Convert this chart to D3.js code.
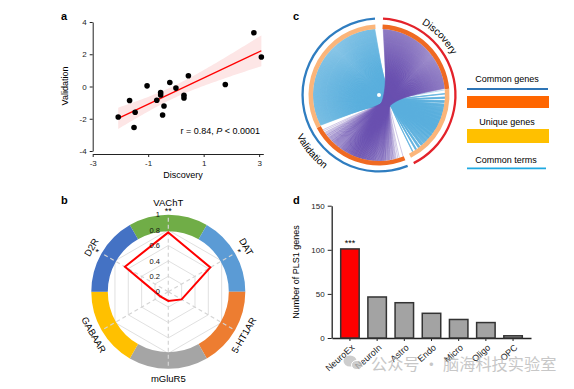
<!DOCTYPE html>
<html>
<head>
<meta charset="utf-8">
<script src="https://cdn.jsdelivr.net/npm/d3@7"></script>
<style>
  body { margin: 0; background: #fff; }
  svg { display: block; font-family: "Liberation Sans", Arial, sans-serif; }
</style>
</head>
<body>
<div id="chart"></div>
<script>
// --- panel a: discovery vs validation scores
const discovery  = [-2.08, -1.67, -1.47, -1.51, -1.04, -0.69, -0.55, -0.55, -0.43, -0.48, -0.22, 0.00, 0.29, 0.29, 0.45, 1.78, 2.81, 3.08];
const validation = [-1.89, -0.87, -1.60, -2.54, 0.04, -0.85, -0.37, -0.52, -1.21, -1.77, 0.25, -0.10, -0.54, -0.71, 0.67, 0.12, 3.33, 1.83];
const xTicksA = [-3, -1, 1, 3];
const yTicksA = [-4, -2, 0, 2, 4];

// --- panel b: receptor radar
const receptors = ['VAChT', 'DAT', '5-HT1AR', 'mGluR5', 'GABAAR', 'D2R'];
const receptorR = [0.77, 0.63, 0.20, 0.12, 0.12, 0.65];
const receptorStars = ['**', '*', '', '', '', '*'];
const radarTicks = [0, 0.2, 0.4, 0.6, 0.8, 1];

// --- panel c: circos of gene sets
const circosSets = ['Discovery', 'Validation'];
const commonGenes = [82, 84];
const uniqueGenes = [68, 115];
const geneLinkCount = 360;
const termLinkCount = 460;
const legendItems = ['Common genes', 'Unique genes', 'Common terms'];

// --- panel d: PLS1 genes by cell type
const cellTypes = ['NeuroEx', 'NeuroIn', 'Astro', 'Endo', 'Micro', 'Oligo', 'OPC'];
const plsGenes = [101, 46.5, 40, 28, 21, 17.5, 2.5];
const yTicksD = [0, 50, 100, 150];

const width = 574, height = 389;
const svg = d3.select('#chart').append('svg')
    .attr('width', width)
    .attr('height', height);
svg.append('rect').attr('width', width).attr('height', height).attr('fill', '#fff');

function styleAxis(g, size) {
    g.attr('font-size', size).attr('font-family', null);
    g.selectAll('path, line').attr('stroke', '#222');
    g.selectAll('text').attr('fill', '#222');
}

function panelLetter(x, y, t) {
    svg.append('text').attr('x', x).attr('y', y)
        .attr('font-size', 11).attr('font-weight', 'bold').text(t);
}

// ================= panel a =================
const xA = d3.scaleLinear().domain([-3, 3.15]).range([92.7, 263.3]);
const yA = d3.scaleLinear().domain([-4, 4]).range([151, 22]);

const n = discovery.length;
const mx = d3.mean(discovery), my = d3.mean(validation);
const sxx = d3.sum(discovery, d => (d - mx) ** 2);
const sxy = d3.sum(discovery, (d, i) => (d - mx) * (validation[i] - my));
const slope = sxy / sxx, icpt = my - slope * mx;
const rss = d3.sum(discovery, (d, i) => (validation[i] - icpt - slope * d) ** 2);
const se = Math.sqrt(rss / (n - 2));
const tval = 2.12;
const [xmin, xmax] = d3.extent(discovery);
const grid = d3.range(61).map(i => xmin + (xmax - xmin) * i / 60);
const ci = x => tval * se * Math.sqrt(1 / n + (x - mx) ** 2 / sxx);

svg.append('path')
    .datum(grid)
    .attr('fill', '#fde6e6')
    .attr('d', d3.area()
        .x(d => xA(d))
        .y0(d => yA(icpt + slope * d - ci(d)))
        .y1(d => yA(icpt + slope * d + ci(d))));

svg.append('g')
    .attr('transform', 'translate(0,154)')
    .call(d3.axisBottom(xA).tickValues(xTicksA).tickSize(3).tickSizeOuter(0).tickFormat(String))
    .call(g => styleAxis(g, 8));

svg.append('g')
    .attr('transform', 'translate(92.7,0)')
    .call(d3.axisLeft(yA).tickValues(yTicksA).tickSize(3).tickSizeOuter(0).tickFormat(String))
    .call(g => styleAxis(g, 8));

svg.append('line')
    .attr('x1', xA(xmin)).attr('x2', xA(xmax))
    .attr('y1', yA(icpt + slope * xmin)).attr('y2', yA(icpt + slope * xmax))
    .attr('stroke', '#f00').attr('stroke-width', 1.3);

svg.selectAll('.dot')
    .data(discovery)
    .enter()
    .append('circle')
    .attr('class', 'dot')
    .attr('cx', d => xA(d))
    .attr('cy', (d, i) => yA(validation[i]))
    .attr('r', 2.8)
    .attr('fill', '#000');

const stat = svg.append('text').attr('x', 260).attr('y', 134)
    .attr('text-anchor', 'end').attr('font-size', 9);
stat.append('tspan').text('r = 0.84, ');
stat.append('tspan').attr('font-style', 'italic').text('P');
stat.append('tspan').text(' < 0.0001');

svg.append('text').attr('x', 183).attr('y', 178).attr('text-anchor', 'middle')
    .attr('font-size', 9).text('Discovery');
svg.append('text').attr('transform', 'translate(68,86) rotate(-90)')
    .attr('text-anchor', 'middle').attr('font-size', 9).text('Validation');
panelLetter(61, 20, 'a');

// ================= panel c =================
const cx = 379, cy = 95;
const rad = Math.PI / 180;
const pt = (deg, r) => [cx + r * Math.sin(deg * rad), cy - r * Math.cos(deg * rad)];

const segs = [], sets = [];
let ang = 3;
circosSets.forEach((s, i) => {
    const start = ang;
    segs.push({ set: s, kind: 'common', a0: ang, a1: ang + commonGenes[i] });
    ang += commonGenes[i];
    segs.push({ set: s, kind: 'unique', a0: ang, a1: ang + uniqueGenes[i] });
    ang += uniqueGenes[i];
    sets.push({ set: s, a0: start, a1: ang });
    ang += 5;
});

// pair each source slot with a target slot on the facing arc (locally shuffled)
function makeLinks(src, tgt, count, step) {
    return d3.range(count).map(i => {
        const fs = (i + 0.5) / count;
        const ft = 0.5 * fs + 0.5 * (((i * step) % count) + 0.5) / count;
        return {
            s: src.a0 + 0.5 + fs * (src.a1 - src.a0 - 1),
            t: tgt.a0 + 0.5 + ft * (tgt.a1 - tgt.a0 - 1)
        };
    });
}
const hub = [cx + 8, cy + 5];
const linkPath = d => {
    const p1 = pt(d.s, 66), p2 = pt(d.t, 66);
    return `M${p1[0]},${p1[1]}C${hub[0]},${hub[1]} ${hub[0]},${hub[1]} ${p2[0]},${p2[1]}`;
};

const termLinks = makeLinks(segs[3], segs[1], termLinkCount, 101);
const geneLinks = makeLinks(segs[0], segs[2], geneLinkCount, 77);

svg.append('g').selectAll('path')
    .data(termLinks).enter().append('path')
    .attr('d', linkPath)
    .attr('fill', 'none')
    .attr('stroke', '#5aaedd')
    .attr('stroke-opacity', 0.55)
    .attr('stroke-width', 0.75);

svg.append('g').selectAll('path')
    .data(geneLinks).enter().append('path')
    .attr('d', linkPath)
    .attr('fill', 'none')
    .attr('stroke', '#6a4fb0')
    .attr('stroke-opacity', 0.42)
    .attr('stroke-width', 0.75);

svg.append('g').attr('transform', `translate(${cx},${cy})`)
    .selectAll('path').data(segs).enter().append('path')
    .attr('d', d3.arc().innerRadius(66).outerRadius(70.5)
        .startAngle(d => d.a0 * rad).endAngle(d => d.a1 * rad))
    .attr('fill', d => d.kind === 'common' ? '#ef6a22' : '#fbb57a');

svg.append('g').attr('transform', `translate(${cx},${cy})`)
    .selectAll('path').data(sets).enter().append('path')
    .attr('d', d3.arc().innerRadius(75.3).outerRadius(77.6)
        .startAngle(d => d.a0 * rad).endAngle(d => d.a1 * rad))
    .attr('fill', d => d.set === 'Discovery' ? '#e3222a' : '#2f7dc0');

svg.append('circle').attr('cx', cx).attr('cy', cy).attr('r', 2).attr('fill', '#fff');

// curved set labels
const defs = svg.append('defs');
const dp0 = pt(0, 83), dp1 = pt(92, 83);
defs.append('path').attr('id', 'discArc')
    .attr('d', `M${dp0[0]},${dp0[1]}A83,83 0 0 1 ${dp1[0]},${dp1[1]}`);
const vp0 = pt(262, 92), vp1 = pt(198, 92);
defs.append('path').attr('id', 'valArc')
    .attr('d', `M${vp0[0]},${vp0[1]}A92,92 0 0 0 ${vp1[0]},${vp1[1]}`);

svg.append('text').attr('font-size', 10)
    .append('textPath').attr('href', '#discArc')
    .attr('startOffset', '50%').attr('text-anchor', 'middle')
    .text(circosSets[0]);
svg.append('text').attr('font-size', 10)
    .append('textPath').attr('href', '#valArc')
    .attr('startOffset', '50%').attr('text-anchor', 'middle')
    .text(circosSets[1]);

// legend
const lg = svg.append('g');
lg.append('text').attr('x', 507).attr('y', 82).attr('text-anchor', 'middle').attr('font-size', 9).text(legendItems[0]);
lg.append('line').attr('x1', 467).attr('x2', 548).attr('y1', 89).attr('y2', 89).attr('stroke', '#2e75b6').attr('stroke-width', 1.8);
lg.append('rect').attr('x', 467).attr('y', 96).attr('width', 82).attr('height', 12).attr('fill', '#ff6600');
lg.append('text').attr('x', 507).attr('y', 125).attr('text-anchor', 'middle').attr('font-size', 9).text(legendItems[1]);
lg.append('rect').attr('x', 467).attr('y', 129).attr('width', 82).attr('height', 14).attr('fill', '#ffc000');
lg.append('text').attr('x', 506).attr('y', 163).attr('text-anchor', 'middle').attr('font-size', 9).text(legendItems[2]);
lg.append('line').attr('x1', 467).attr('x2', 546).attr('y1', 168.3).attr('y2', 168.3).attr('stroke', '#1fa9e1').attr('stroke-width', 1.8);
panelLetter(293, 20, 'c');

// ================= panel b =================
const bx = 168.3, by = 291.7;
const rB = d3.scaleLinear().domain([0, 1]).range([0, 77]);
const ringColors = ['#70ad47', '#5b9bd5', '#ed7d31', '#a5a5a5', '#ffc000', '#4472c4'];
const bpt = (deg, r) => [bx + r * Math.sin(deg * rad), by - r * Math.cos(deg * rad)];
const axisAng = i => i * 360 / receptors.length;

const gridG = svg.append('g');
[0.2, 0.4, 0.6, 0.8].forEach(v => {
    gridG.append('polygon')
        .attr('points', receptors.map((d, i) => bpt(axisAng(i), rB(v)).join(',')).join(' '))
        .attr('fill', 'none').attr('stroke', '#dcdcdc').attr('stroke-width', 0.9);
});

svg.append('g').attr('transform', `translate(${bx},${by})`)
    .selectAll('path').data(receptors).enter().append('path')
    .attr('d', d3.arc().innerRadius(60.5).outerRadius(77)
        .startAngle((d, i) => (axisAng(i) - 30) * rad)
        .endAngle((d, i) => (axisAng(i) + 30) * rad))
    .attr('fill', (d, i) => ringColors[i]);

receptors.forEach((d, i) => {
    const p = bpt(axisAng(i), 77);
    svg.append('line').attr('x1', bx).attr('y1', by).attr('x2', p[0]).attr('y2', p[1])
        .attr('stroke', '#d4d4d4').attr('stroke-width', 1.2).attr('stroke-dasharray', '4,3');
});

svg.append('polygon')
    .attr('points', receptorR.map((v, i) => bpt(axisAng(i), rB(v)).join(',')).join(' '))
    .attr('fill', 'none').attr('stroke', '#f00').attr('stroke-width', 2);

svg.append('g').selectAll('text').data(radarTicks).enter().append('text')
    .attr('x', 160).attr('y', d => by - rB(d))
    .attr('dy', '0.35em').attr('text-anchor', 'end')
    .attr('font-size', 7.5).attr('fill', '#111')
    .text(d => d);

const labelR = [89, 90, 87, 87, 86, 89];
receptors.forEach((d, i) => {
    const a = axisAng(i);
    const rot = a > 90 && a < 270 ? a - 180 : (a >= 270 ? a - 360 : a);
    const p = bpt(a, labelR[i]);
    svg.append('text').attr('transform', `translate(${p[0]},${p[1]}) rotate(${rot})`)
        .attr('text-anchor', 'middle').attr('dominant-baseline', 'central')
        .attr('font-size', 9.5).text(d);
    if (receptorStars[i]) {
        const s = bpt(a, 80.5);
        svg.append('text').attr('transform', `translate(${s[0]},${s[1]}) rotate(${rot})`)
            .attr('text-anchor', 'middle').attr('dominant-baseline', 'central')
            .attr('font-size', 9).text(receptorStars[i]);
    }
});
panelLetter(61, 204, 'b');

// ================= panel d =================
const xD = d3.scaleBand().domain(cellTypes).range([332, 531]).padding(0.32);
const yD = d3.scaleLinear().domain([0, 150]).range([338, 205.7]);

svg.append('g')
    .attr('transform', 'translate(331.7,0)')
    .call(d3.axisLeft(yD).tickValues(yTicksD).tickSize(4).tickSizeOuter(0))
    .call(g => styleAxis(g, 8))
    .call(g => g.select('.domain').attr('stroke-width', 1.3));

const xAxisD = svg.append('g')
    .attr('transform', 'translate(0,338)')
    .call(d3.axisBottom(xD).tickSize(3).tickSizeOuter(0))
    .call(g => styleAxis(g, 9))
    .call(g => g.select('.domain').attr('stroke-width', 1.3));
xAxisD.selectAll('text')
    .attr('x', 0).attr('y', 0)
    .attr('text-anchor', 'end')
    .attr('transform', 'translate(3,8) rotate(-42)')
    .attr('dy', '0.35em');

svg.selectAll('.bar')
    .data(cellTypes)
    .enter()
    .append('rect')
    .attr('class', 'bar')
    .attr('x', d => xD(d))
    .attr('y', (d, i) => yD(plsGenes[i]))
    .attr('width', xD.bandwidth())
    .attr('height', (d, i) => yD(0) - yD(plsGenes[i]))
    .attr('fill', (d, i) => i === 0 ? '#ff0000' : '#a3a3a3')
    .attr('stroke', '#333')
    .attr('stroke-width', 1.5);

svg.append('text')
    .attr('x', xD(cellTypes[0]) + xD.bandwidth() / 2)
    .attr('y', yD(plsGenes[0]) - 3)
    .attr('text-anchor', 'middle').attr('font-size', 9).text('***');

svg.append('text').attr('transform', 'translate(299,272) rotate(-90)')
    .attr('text-anchor', 'middle').attr('font-size', 9).text('Number of PLS1 genes');
panelLetter(293, 204, 'd');

// watermark
const wm = svg.append('g').attr('opacity', 0.75);
wm.append('ellipse').attr('cx', 350).attr('cy', 361).attr('rx', 6.5).attr('ry', 5.5).attr('fill', '#bdbdbd');
wm.append('ellipse').attr('cx', 357).attr('cy', 365).attr('rx', 5.5).attr('ry', 4.6).attr('fill', '#bdbdbd').attr('stroke', '#fff').attr('stroke-width', 1);
wm.append('text').attr('x', 371).attr('y', 370)
    .attr('font-family', '"Noto Sans CJK SC", sans-serif')
    .attr('font-size', 16.2).attr('fill', '#b5b5b5')
    .text('公众号 · 脑海科技实验室');
</script>
</body>
</html>
